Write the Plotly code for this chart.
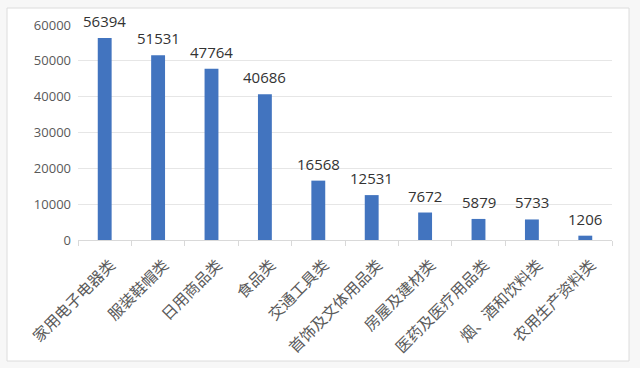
import plotly.graph_objects as go

categories = ["家用电子电器类", "服装鞋帽类", "日用商品类", "食品类", "交通工具类",
              "首饰及文体用品类", "房屋及建材类", "医药及医疗用品类", "烟、酒和饮料类", "农用生产资料类"]
values = [56394, 51531, 47764, 40686, 16568, 12531, 7672, 5879, 5733, 1206]
y_ticks = [0, 10000, 20000, 30000, 40000, 50000, 60000]

fig = go.Figure(go.Bar(
    x=categories, y=values,
    marker=dict(color="#4274BF", line=dict(width=0)),
    cliponaxis=False, hoverinfo="skip",
))

annotations = [dict(x=c, y=v, xref="x", yref="y", text=str(v), showarrow=False,
                    yanchor="bottom", xanchor="center", yshift=5,
                    font=dict(family="Open Sans", size=15, color="#333333"))
               for c, v in zip(categories, values)]

L, R, T, B = 78, 612, 25, 240
PW, PH = R - L, B - T
fig.update_layout(
    width=640, height=368,
    margin=dict(l=L, r=640 - R, t=T, b=368 - B, autoexpand=False),
    paper_bgcolor="#F7F7F7", plot_bgcolor="rgba(0,0,0,0)",
    bargap=0.74, showlegend=False,
    annotations=annotations,
    shapes=[dict(type="rect", xref="paper", yref="paper",
                 x0=(7 - L) / PW, x1=(629 - L) / PW,
                 y0=-(361 - B) / PH, y1=(B - 8) / PH,
                 fillcolor="white",
                 line=dict(color="#DCDCDC", width=1), layer="below")],
)
fig.update_xaxes(
    automargin=False,
    tickangle=-45, tickfont=dict(family="Noto Sans CJK SC", size=15.5, color="#5A5A5A"),
    showline=True, linecolor="#D9D9D9", linewidth=1,
    ticks="outside", tickson="boundaries", ticklen=5, tickcolor="#D9D9D9",
    showgrid=False, ticklabelstandoff=9, ticklabelshift=6,
)
fig.update_yaxes(
    automargin=False,
    range=[0, 60000], tickvals=y_ticks, ticktext=[str(t) for t in y_ticks],
    tickfont=dict(family="Open Sans", size=13, color="#595959"),
    showgrid=True, gridcolor="#E6E6E6", zeroline=False, ticklabelstandoff=6,
)
fig.write_html("out.html", config={"displayModeBar": False},
               post_script="document.body.style.margin='0';")
